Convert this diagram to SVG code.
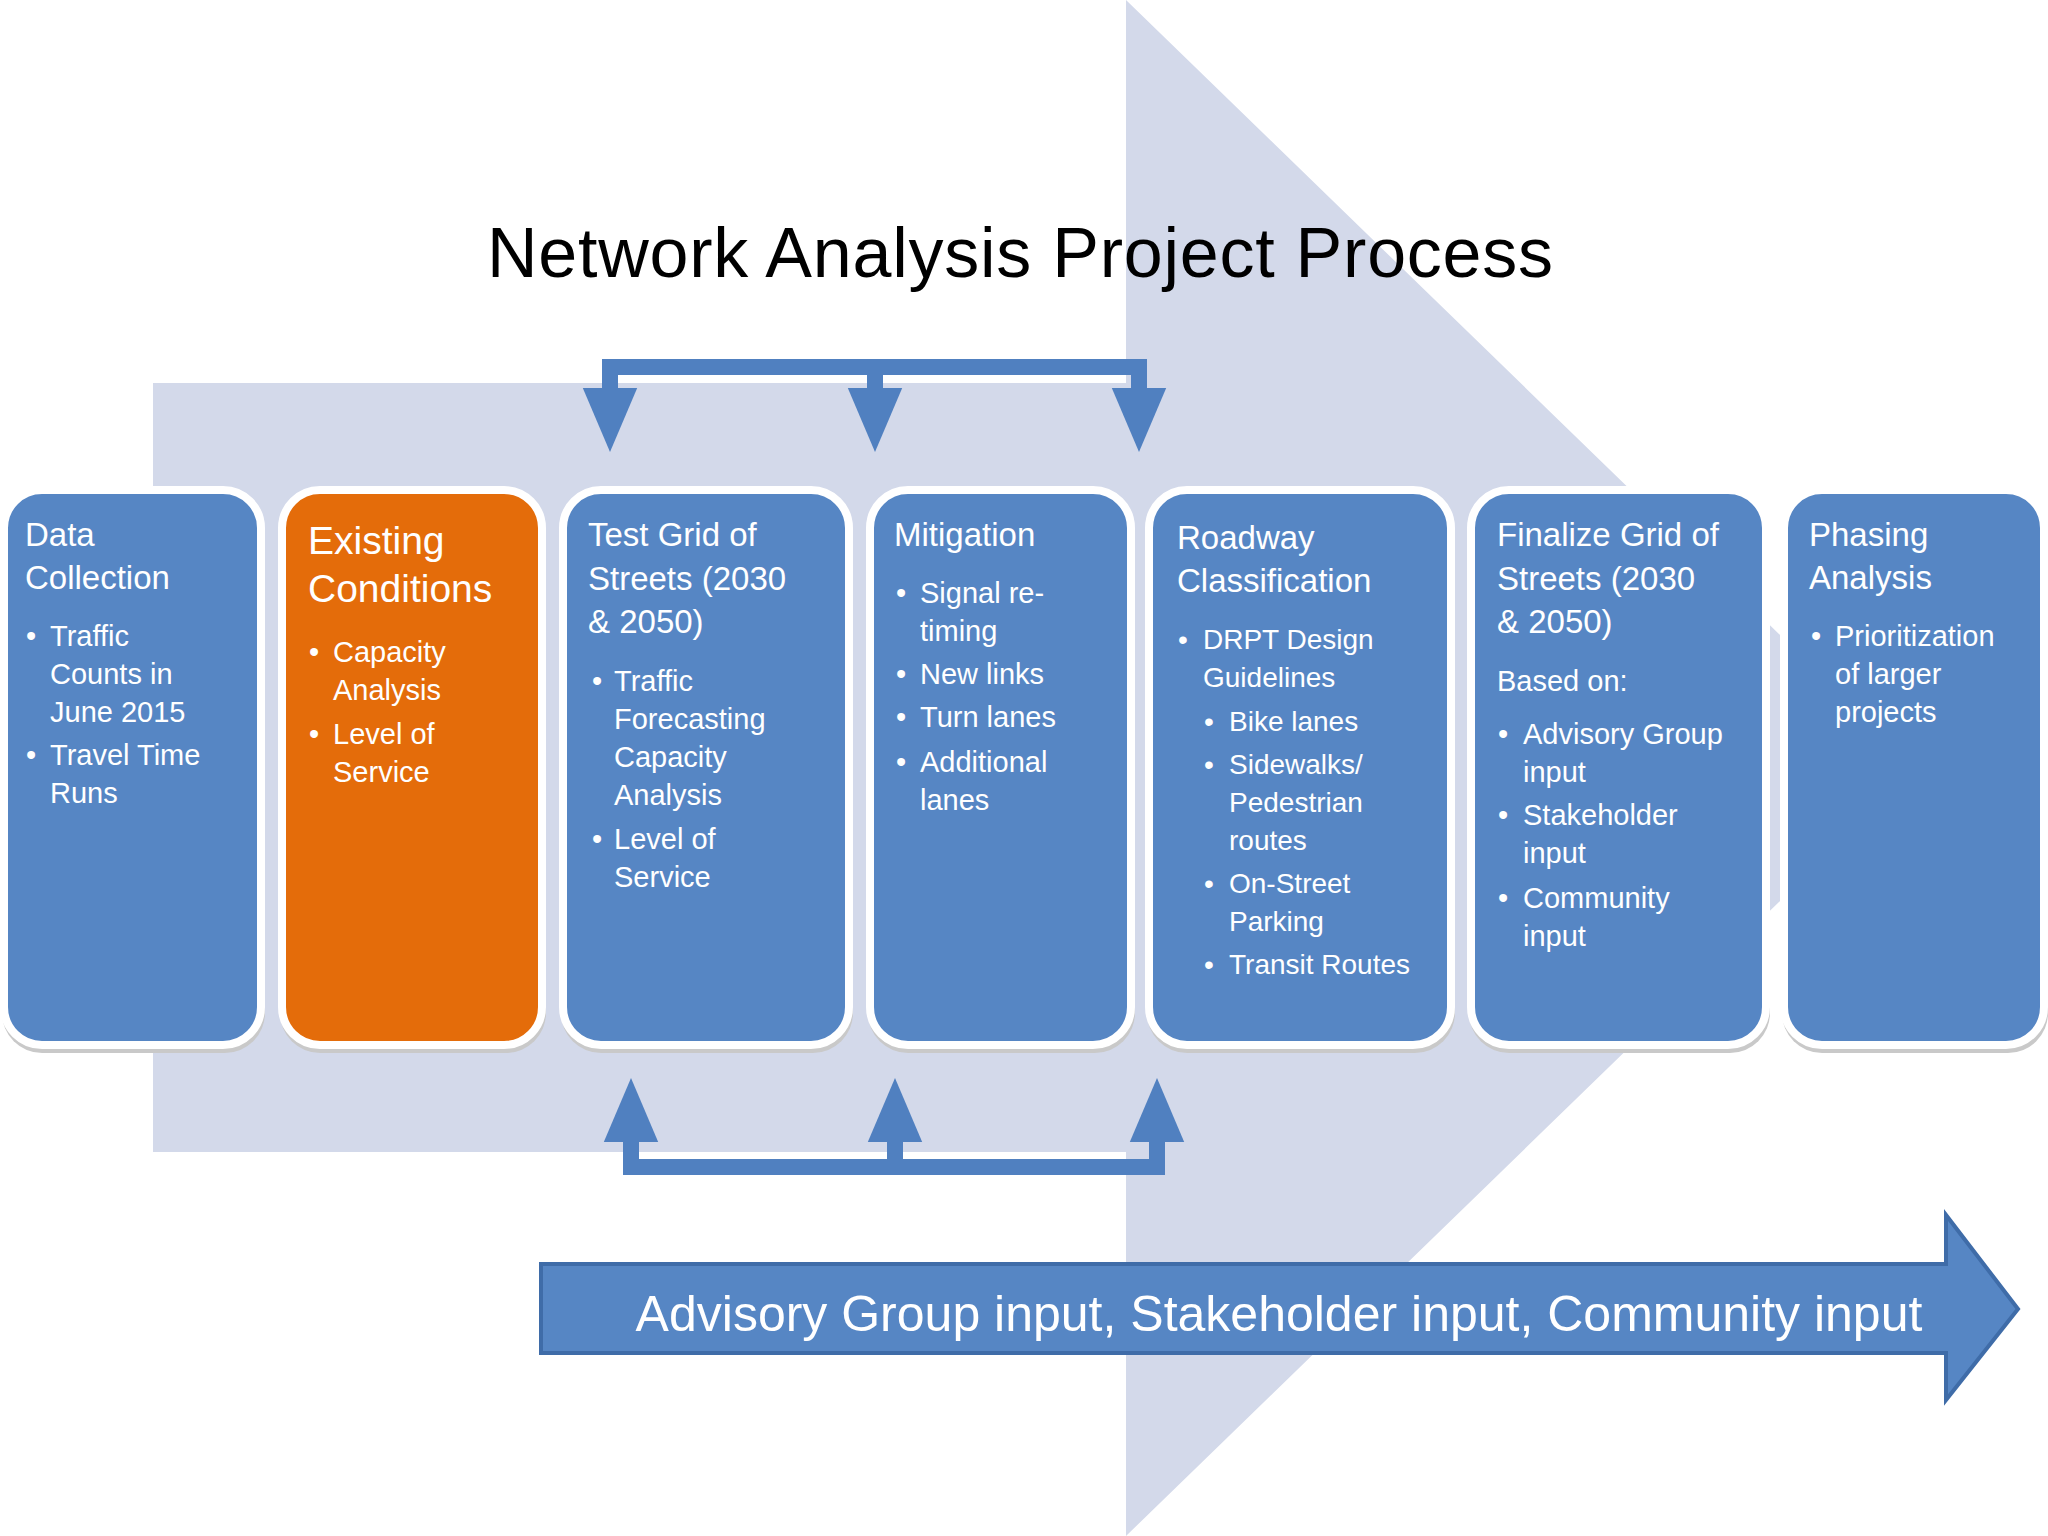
<svg xmlns="http://www.w3.org/2000/svg" width="2048" height="1536" viewBox="0 0 2048 1536">
<style>
.box{fill:#5686c4;stroke:#ffffff;stroke-width:8}
.shadow{fill:#c9c9c9}
text{font-family:"Liberation Sans",Arial,sans-serif;fill:#ffffff}
.h{font-size:33px}
.b{font-size:29px}
.con{fill:none;stroke:#5080c0;stroke-width:16}
</style>
<defs>
<marker id="ah" markerWidth="4" markerHeight="4" refX="2" refY="2" orient="auto" markerUnits="strokeWidth">
<path d="M0,0.3 L4,2 L0,3.7 z" fill="#5080c0"/>
</marker>
</defs>
<rect width="2048" height="1536" fill="#ffffff"/>
<g id="background-arrow">
<polygon points="153,383 1126,383 1126,0 1917,768 1126,1536 1126,1152 153,1152" fill="#d3d9ea"/>
</g>
<text x="1020" y="277" text-anchor="middle" style="font-size:70px;fill:#000000" textLength="1066" font-family="Liberation Sans">Network Analysis Project Process</text>
<g id="connectors">
<path class="con" d="M610,420 V367 H1139 V420" marker-end="url(#ah)"/>
<path class="con" d="M875,367 V420" marker-end="url(#ah)"/>
<path class="con" d="M610,367 V420" marker-end="url(#ah)"/>
<path class="con" d="M631,1110 V1167 H1157 V1110" marker-end="url(#ah)"/>
<path class="con" d="M895,1167 V1110" marker-end="url(#ah)"/>
<path class="con" d="M631,1167 V1110" marker-end="url(#ah)"/>
</g>
<g id="n1">
<rect class="shadow" x="2" y="494" width="263" height="559" rx="40"/>
<rect class="box" x="4" y="490" width="257" height="555" rx="38"/>
<text class="h" x="25" y="546">Data</text>
<text class="h" x="25" y="589">Collection</text>
<text class="b"><tspan x="26" y="646">•</tspan><tspan x="50" y="646">Traffic</tspan><tspan x="50" y="684">Counts in</tspan><tspan x="50" y="722">June 2015</tspan><tspan x="26" y="765">•</tspan><tspan x="50" y="765">Travel Time</tspan><tspan x="50" y="803">Runs</tspan></text>
</g>
<g id="n2">
<rect class="shadow" x="280" y="494" width="266" height="559" rx="40"/>
<rect class="box" x="282" y="490" width="260" height="555" rx="38" style="fill:#e46c0a"/>
<text x="308" y="554" style="font-size:39px">Existing</text>
<text x="308" y="602" style="font-size:39px">Conditions</text>
<text class="b"><tspan x="309" y="662">•</tspan><tspan x="333" y="662">Capacity</tspan><tspan x="333" y="700">Analysis</tspan><tspan x="309" y="744">•</tspan><tspan x="333" y="744">Level of</tspan><tspan x="333" y="782">Service</tspan></text>
</g>
<g id="n3">
<rect class="shadow" x="561" y="494" width="292" height="559" rx="40"/>
<rect class="box" x="563" y="490" width="286" height="555" rx="38"/>
<text class="h" x="588" y="546">Test Grid of</text>
<text class="h" x="588" y="590">Streets (2030</text>
<text class="h" x="588" y="633">&amp; 2050)</text>
<text class="b"><tspan x="592" y="691">•</tspan><tspan x="614" y="691">Traffic</tspan><tspan x="614" y="729">Forecasting</tspan><tspan x="614" y="767">Capacity</tspan><tspan x="614" y="805">Analysis</tspan><tspan x="592" y="849">•</tspan><tspan x="614" y="849">Level of</tspan><tspan x="614" y="887">Service</tspan></text>
</g>
<g id="n4">
<rect class="shadow" x="868" y="494" width="267" height="559" rx="40"/>
<rect class="box" x="870" y="490" width="261" height="555" rx="38"/>
<text class="h" x="894" y="546">Mitigation</text>
<text class="b"><tspan x="896" y="603">•</tspan><tspan x="920" y="603">Signal re-</tspan><tspan x="920" y="641">timing</tspan><tspan x="896" y="684">•</tspan><tspan x="920" y="684">New links</tspan><tspan x="896" y="727">•</tspan><tspan x="920" y="727">Turn lanes</tspan><tspan x="896" y="772">•</tspan><tspan x="920" y="772">Additional</tspan><tspan x="920" y="810">lanes</tspan></text>
</g>
<g id="n5">
<rect class="shadow" x="1147" y="494" width="308" height="559" rx="40"/>
<rect class="box" x="1149" y="490" width="302" height="555" rx="38"/>
<text class="h" x="1177" y="549">Roadway</text>
<text class="h" x="1177" y="592">Classification</text>
<text class="b" style="font-size:28px"><tspan x="1178" y="649">•</tspan><tspan x="1203" y="649">DRPT Design</tspan><tspan x="1203" y="687">Guidelines</tspan><tspan x="1204" y="731">•</tspan><tspan x="1229" y="731">Bike lanes</tspan><tspan x="1204" y="774">•</tspan><tspan x="1229" y="774">Sidewalks/</tspan><tspan x="1229" y="812">Pedestrian</tspan><tspan x="1229" y="850">routes</tspan><tspan x="1204" y="893">•</tspan><tspan x="1229" y="893">On-Street</tspan><tspan x="1229" y="931">Parking</tspan><tspan x="1204" y="974">•</tspan><tspan x="1229" y="974">Transit Routes</tspan></text>
</g>
<g id="n6">
<rect class="shadow" x="1469" y="494" width="301" height="559" rx="40"/>
<rect class="box" x="1471" y="490" width="295" height="555" rx="38"/>
<text class="h" x="1497" y="546">Finalize Grid of</text>
<text class="h" x="1497" y="590">Streets (2030</text>
<text class="h" x="1497" y="633">&amp; 2050)</text>
<text class="b" x="1497" y="691">Based on:</text>
<text class="b"><tspan x="1498" y="744">•</tspan><tspan x="1523" y="744">Advisory Group</tspan><tspan x="1523" y="782">input</tspan><tspan x="1498" y="825">•</tspan><tspan x="1523" y="825">Stakeholder</tspan><tspan x="1523" y="863">input</tspan><tspan x="1498" y="908">•</tspan><tspan x="1523" y="908">Community</tspan><tspan x="1523" y="946">input</tspan></text>
</g>
<g id="n7">
<rect class="shadow" x="1782" y="494" width="266" height="559" rx="40"/>
<rect class="box" x="1784" y="490" width="260" height="555" rx="38"/>
<text class="h" x="1809" y="546">Phasing</text>
<text class="h" x="1809" y="589">Analysis</text>
<text class="b"><tspan x="1811" y="646">•</tspan><tspan x="1835" y="646">Prioritization</tspan><tspan x="1835" y="684">of larger</tspan><tspan x="1835" y="722">projects</tspan></text>
</g>
<g id="input-arrow">
<polygon points="541,1264 1946,1264 1946,1215 2018,1309 1946,1400 1946,1353 541,1353" fill="#5686c4" stroke="#3f6ca8" stroke-width="4"/>
<text x="1279" y="1331" text-anchor="middle" style="font-size:50px">Advisory Group input, Stakeholder input, Community input</text>
</g>
</svg>
